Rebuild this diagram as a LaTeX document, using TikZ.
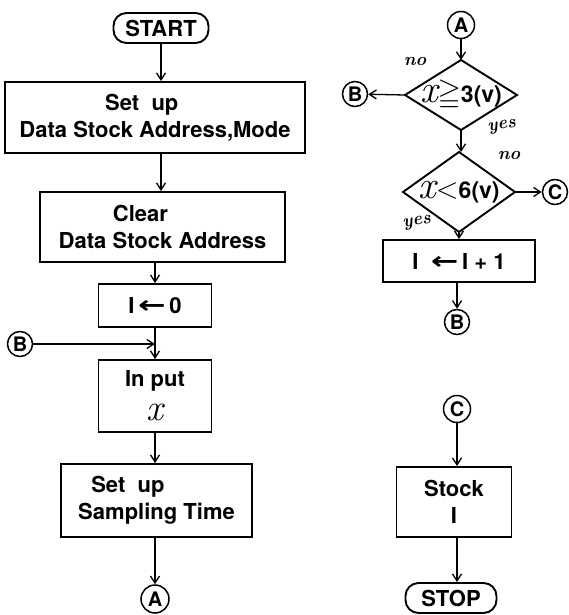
\documentclass[tikz,border=0pt]{standalone}
\usepackage{fontspec}
\usepackage{amssymb}
\setsansfont{TeX Gyre Heros}
\newfontfamily\arrowfont{DejaVu Sans}
\usetikzlibrary{shapes.geometric,arrows.meta}
\newcommand{\myarrow}{{\arrowfont\bfseries\scalebox{1.5}[1.1]{←}}}
\newcommand{\myx}{\raisebox{1pt}{\scalebox{1.7}{$\mathit{x}$}}}
\newcommand{\mydx}{\scalebox{1.7}{$\mathit{x}$}}
\newcommand{\mygeq}{\scalebox{1.3}{$\geqq$}}
\newcommand{\myless}{\scalebox{1.2}{$<$}}

\begin{document}
\begin{tikzpicture}[x=1pt,y=-1pt,
  proc/.style={draw,line width=1.9pt,rectangle,inner sep=0pt,align=center,
    font=\sffamily\bfseries\fontsize{22}{27}\selectfont},
  term/.style={draw,line width=1.9pt,rectangle,rounded corners=13pt,inner sep=0pt,
    font=\sffamily\bfseries\fontsize{22}{27}\selectfont},
  conn/.style={draw,line width=1.5pt,circle,inner sep=0pt,minimum size=26pt,
    font=\sffamily\bfseries\fontsize{20}{20}\selectfont},
  dec/.style={draw,line width=1.9pt,diamond,inner sep=0pt,outer sep=0pt},
  flow/.style={line width=1.3pt,-{Straight Barb[length=7pt,width=9pt]}},
  plain/.style={line width=1.3pt},
  ans/.style={font=\rmfamily\itshape\bfseries\fontsize{18}{18}\selectfont,inner sep=1pt},
  dtext/.style={font=\sffamily\bfseries\fontsize{23}{23}\selectfont,inner sep=0pt},
]
\useasboundingbox (0,0) rectangle (569,615);

% ---------- left column ----------
\node[term,minimum width=95pt,minimum height=30pt] (start) at (161,28) {START};
\node[proc,minimum width=300pt,minimum height=71pt] (b1) at (155,117.5)
  {Set\ \ up\hspace*{1.2em}\\Data Stock Address,Mode};
\node[proc,minimum width=245pt,minimum height=70pt] (b2) at (162.5,227)
  {Clear\hspace*{2em}\\Data Stock Address};
\node[proc,minimum width=113pt,minimum height=43pt] (b3) at (155,305.5)
  {I\,\myarrow\,0};
\node[proc,minimum width=113pt,minimum height=72pt] (b4) at (155,396)
  {In put\\[8pt]\myx};
\node[proc,minimum width=191pt,minimum height=73pt] (b5) at (156.5,500.5)
  {Set\ \ up\hspace*{2.6em}\\Sampling Time};
\node[conn,minimum size=28pt] (a1) at (155,599) {A};
\node[conn,minimum size=25pt] (bin) at (20,344) {B};

\draw[flow] (start.south) -- (start.south |- b1.north);
\draw[flow] (start.south |- b1.south) -- (start.south |- b2.north);
\draw[flow] (b3.north |- b2.south) -- (b3.north);
\draw[plain] (b3.south) -- (bin -| b3.south);
\draw[flow] (bin -| b3.south) -- (b4.north);
\draw[flow] (bin) -- (bin -| b3.south);
\draw[flow] (b4.south) -- (b4.south |- b5.north);
\draw[flow] (b4.south |- b5.south) -- (a1);

% ---------- right column ----------
\node[conn,minimum size=27pt] (a2) at (461,25) {A};
\node[dec,minimum width=112pt,minimum height=70pt,
  label={[dtext]center:{\mydx\mygeq3(v)}}] (d1) at (461,95) {};
\node[conn,minimum size=25pt] (b2c) at (355,94) {B};
\node[dec,minimum width=112pt,minimum height=80pt,
  label={[dtext]center:{\mydx\myless6(v)}}] (d2) at (459,192) {};
\node[conn,minimum size=25pt] (c1) at (555,192) {C};
\node[proc,minimum width=152pt,minimum height=42pt] (b6) at (459,261)
  {I\ \ \myarrow\,I\ +\ 1};
\node[conn,minimum size=25pt] (b3c) at (457,322) {B};

\node[ans] (no1) at (415,62) {no};
\node[ans,rotate=10] (yes1) at (502,127) {yes};
\node[ans] (no2) at (509,156) {no};
\node[ans,rotate=10] (yes2) at (417,223) {yes};

\draw[flow] (a2) -- (d1.north);
\draw[flow] (d1.west) -- (b2c);
\draw[flow] (d1.south) -- (d1.south |- d2.north);
\draw[flow] (d2.east) -- (c1);
\draw[flow] (d2.south) -- (d2.south |- b6.north);
\draw[flow] (b3c.north |- b6.south) -- (b3c);

\node[conn,minimum size=27pt] (c2) at (457,409) {C};
\node[proc,minimum width=115pt,minimum height=70pt] (b7) at (454,502)
  {Stock\\I};
\node[term,minimum width=91pt,minimum height=30pt] (stop) at (451,598) {STOP};

\draw[flow] (c2) -- (c2 |- b7.north);
\draw[flow] (c2 |- b7.south) -- (c2 |- stop.north);
\end{tikzpicture}
\end{document}
